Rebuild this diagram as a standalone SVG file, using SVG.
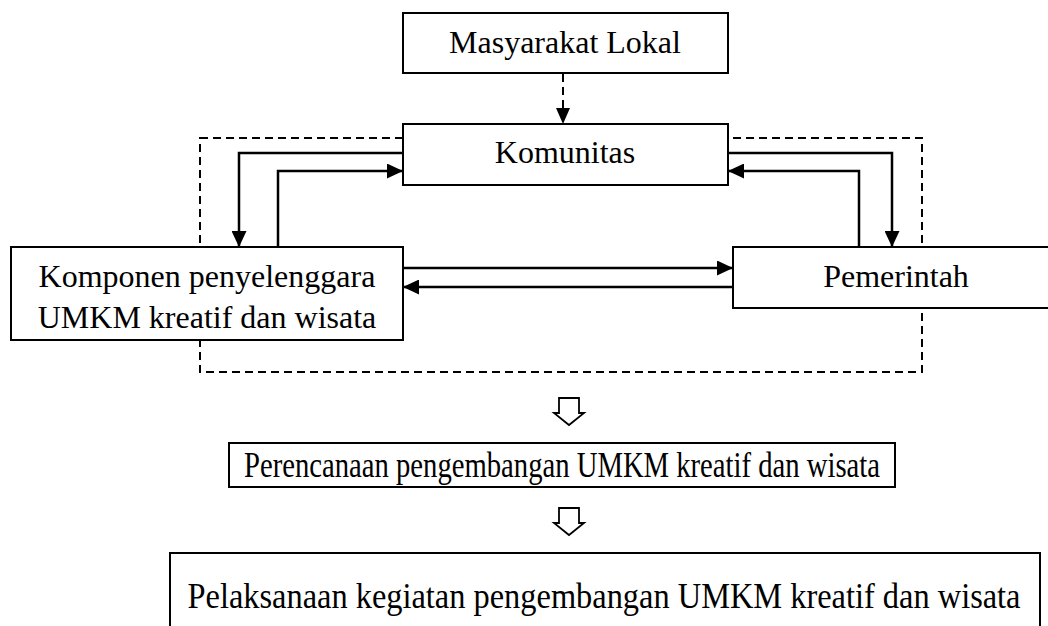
<svg xmlns="http://www.w3.org/2000/svg" width="1048" height="626" viewBox="0 0 1048 626">
<style>
.box{fill:#fff;stroke:#000;stroke-width:2}
.lbl{font-family:"Liberation Serif","Times New Roman",serif;font-size:32px;fill:#000;text-anchor:middle}
.low{font-size:35px}
.c{fill:none;stroke:#000;stroke-width:2.5}
.d{fill:none;stroke:#000;stroke-width:2;stroke-dasharray:8,5}
.hollow{fill:#fff;stroke:#000;stroke-width:1.8;stroke-linejoin:miter}
</style>
<defs>
<marker id="ah" markerUnits="userSpaceOnUse" markerWidth="17" markerHeight="15" refX="16" refY="7.5" orient="auto">
<path d="M0,0 L16,7.5 L0,15 Z" fill="#000"/>
</marker>
</defs>
<rect x="0" y="0" width="1048" height="626" fill="#fff"/>
<rect id="scope" x="200" y="138" width="722" height="234" class="d"/>
<g id="n-masyarakat"><rect class="box" x="403" y="13" width="325" height="60"/><text class="lbl" x="565" y="53">Masyarakat Lokal</text></g>
<g id="n-komunitas"><rect class="box" x="403" y="124" width="325" height="61"/><text class="lbl" x="565" y="163">Komunitas</text></g>
<g id="n-komponen"><rect class="box" x="11" y="247" width="392" height="93"/><text class="lbl" x="207" y="287">Komponen penyelenggara</text><text class="lbl" x="207" y="328">UMKM kreatif dan wisata</text></g>
<g id="n-pemerintah"><rect class="box" x="733" y="247" width="330" height="61"/><text class="lbl" x="896" y="287">Pemerintah</text></g>
<g id="n-perencanaan"><rect class="box" x="229" y="443" width="666" height="44"/><text class="lbl low" x="562" y="477" textLength="636" lengthAdjust="spacingAndGlyphs">Perencanaan pengembangan UMKM kreatif dan wisata</text></g>
<g id="n-pelaksanaan"><path class="box" d="M170,626 V553 H1040 V626"/><text class="lbl low" x="604" y="608" textLength="833" lengthAdjust="spacingAndGlyphs">Pelaksanaan kegiatan pengembangan UMKM kreatif dan wisata</text></g>
<g id="connectors">
<path class="d" d="M563,74 V109" />
<path d="M556,108 L563,124 L570,108 Z" fill="#000"/>
<path class="c" d="M403,153 H239 V247" marker-end="url(#ah)"/>
<path class="c" d="M278,247 V171 H403" marker-end="url(#ah)"/>
<path class="c" d="M728,153 H892 V247" marker-end="url(#ah)"/>
<path class="c" d="M859,247 V171 H728" marker-end="url(#ah)"/>
<path class="c" d="M403,268 H733" marker-end="url(#ah)"/>
<path class="c" d="M733,287 H403" marker-end="url(#ah)"/>
<path class="hollow" d="M559,398 H579 V413 H584 L569,425 L554,413 H559 Z"/>
<path class="hollow" d="M559,508 H579 V523 H584 L569,535 L554,523 H559 Z"/>
</g>
</svg>
